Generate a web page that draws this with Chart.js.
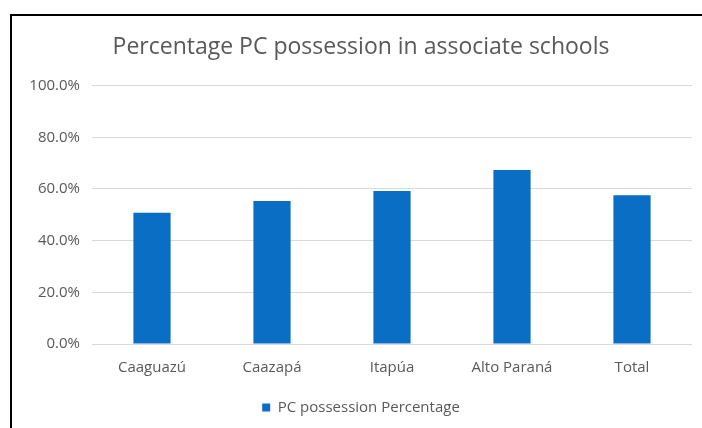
<!DOCTYPE html>
<html>
<head>
<meta charset="utf-8">
<script src="https://cdn.jsdelivr.net/npm/chart.js@4/dist/chart.umd.min.js"></script>
<style>
    html, body {
        margin: 0;
        padding: 0;
        background: #ffffff;
    }
    #wrap {
        position: absolute;
        left: 0;
        top: 0;
        width: 702px;
        height: 428px;
    }
    #frame {
        position: absolute;
        left: 10px;
        top: 14px;
        width: 702px;
        height: 428px;
        border-left: 2px solid #000000;
        border-top: 2px solid #000000;
        pointer-events: none;
    }
</style>
</head>
<body>
<div id="wrap"><canvas id="pcChart"></canvas></div>
<div id="frame"></div>
<script>
const labels = ["Caaguazú", "Caazapá", "Itapúa", "Alto Paraná", "Total"];
const pcValues = [50.8, 55.3, 59.2, 67.3, 57.6];
const yTicks = [0, 20, 40, 60, 80, 100];

const textColor = "#595959";
const fontFamily = "'Open Sans', sans-serif";

const pcData = {
    label: "PC possession Percentage",
    data: pcValues,
    backgroundColor: "#0A6EC4",
    borderWidth: 0,
    barPercentage: 0.31,
    categoryPercentage: 1.0,
};

const config = {
    type: "bar",
    data: {
        labels: labels,
        datasets: [pcData],
    },
    options: {
        maintainAspectRatio: false,
        responsive: true,
        animation: false,
        layout: {
            padding: { left: 30, right: 10, top: 0, bottom: 3 },
        },
        scales: {
            y: {
                min: 0,
                max: 100,
                afterBuildTicks: function (scale) {
                    scale.ticks = yTicks.map(function (v) { return { value: v }; });
                },
                afterFit: function (scale) {
                    scale.width = 62;
                },
                border: { display: false },
                grid: {
                    color: "#d9d9d9",
                    drawTicks: false,
                },
                ticks: {
                    padding: 12,
                    color: textColor,
                    font: { family: fontFamily, size: 15 },
                    callback: function (v) { return v.toFixed(1) + "%"; },
                },
            },
            x: {
                afterFit: function (scale) {
                    scale.height = 46;
                },
                border: { display: false },
                grid: { display: false, drawTicks: false },
                ticks: {
                    padding: 15,
                    color: textColor,
                    font: { family: fontFamily, size: 15 },
                },
            },
        },
        plugins: {
            title: {
                display: true,
                text: "Percentage PC possession in associate schools",
                color: textColor,
                font: { family: fontFamily, size: 23, weight: "normal" },
                padding: { top: 34, bottom: 24 },
            },
            legend: {
                position: "bottom",
                labels: {
                    color: textColor,
                    boxWidth: 8,
                    boxHeight: 8,
                    padding: 10,
                    font: { family: fontFamily, size: 15 },
                },
            },
            tooltip: { enabled: false },
        },
    },
};

var pcChart = new Chart(document.getElementById("pcChart"), config);
</script>
</body>
</html>
